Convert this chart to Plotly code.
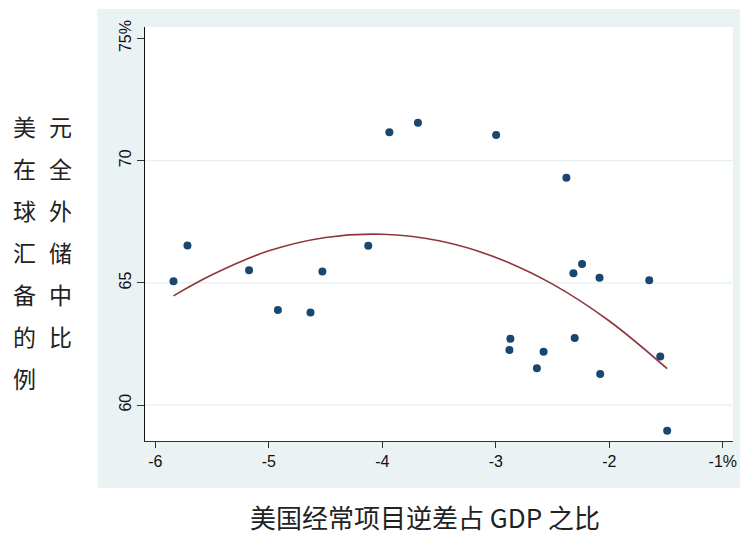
import plotly.graph_objects as go

# ---- data ----
deficit_gdp = [-5.84, -5.717, -5.174, -4.92, -4.633, -4.528, -4.124, -3.938, -3.686, -2.997,
               -2.378, -2.24, -2.316, -2.086, -1.648, -2.871, -2.88, -2.579, -2.638, -2.305,
               -2.08, -1.551, -1.49]
usd_share = [65.07, 66.53, 65.52, 63.89, 63.79, 65.47, 66.52, 71.16, 71.55, 71.05,
             69.30, 65.77, 65.39, 65.21, 65.11, 62.71, 62.25, 62.18, 61.51, 62.74,
             61.27, 61.99, 58.95]

fit_x = [-5.84, -5.5, -5.0, -4.5, -4.0, -3.5, -3.0, -2.5, -2.0, -1.49]
fit_y = [64.47, 65.33, 66.31, 66.86, 66.99, 66.72, 66.04, 64.95, 63.44, 61.49]

x_tickvals = [-6, -5, -4, -3, -2, -1]
x_ticktext = ["-6", "-5", "-4", "-3", "-2", "-1%"]
y_tickvals = [60, 65, 70, 75]
y_ticktext = ["60", "65", "70", "75%"]
grid_vals = [60, 65, 70]

y_title_rows = [["美", "元"], ["在", "全"], ["球", "外"], ["汇", "储"], ["备", "中"], ["的", "比"], ["例"]]
x_title = "美国经常项目逆差占 GDP 之比"

# ---- layout geometry (pixels) ----
W, H = 744, 534
L, R, T, B = 145, 7, 27, 93
pw, ph = W - L - R, H - T - B


def px2x(px):
    return (px - L) / pw


def py2y(py):
    return (H - B - py) / ph


fig = go.Figure()

fig.add_trace(go.Scatter(
    x=deficit_gdp, y=usd_share, mode="markers",
    marker=dict(color="#1a476f", size=8, line=dict(width=0)),
    showlegend=False, hoverinfo="x+y"))

fig.add_trace(go.Scatter(
    x=fit_x, y=fit_y, mode="lines", line=dict(color="#90353b", width=1.6, shape="spline"),
    showlegend=False, hoverinfo="skip"))

shapes = [
    dict(type="rect", xref="paper", yref="paper", x0=px2x(97), x1=px2x(744), y0=py2y(488), y1=py2y(9),
         fillcolor="#eaf2f3", line=dict(width=0), layer="below"),
    dict(type="rect", xref="paper", yref="paper", x0=0, x1=1, y0=0, y1=1,
         fillcolor="white", line=dict(width=0), layer="below"),
]
for g in grid_vals:
    shapes.append(dict(type="line", xref="paper", yref="y", x0=0, x1=1, y0=g, y1=g,
                       line=dict(color="#e6eff1", width=1.2), layer="below"))

annotations = []
col_px = [24, 60]
row_py0, row_dy = 126, 42
for i, row in enumerate(y_title_rows):
    for j, ch in enumerate(row):
        annotations.append(dict(
            text=ch, xref="paper", yref="paper",
            x=px2x(col_px[j]), y=py2y(row_py0 + i * row_dy),
            xanchor="center", yanchor="middle", showarrow=False,
            font=dict(family="Noto Sans CJK SC", size=23, color="#222222")))

annotations.append(dict(
    text=x_title, xref="paper", yref="paper", x=px2x(427), y=py2y(516),
    xanchor="center", yanchor="middle", showarrow=False, borderpad=0,
    font=dict(family="Noto Sans CJK SC", size=26, color="#222222")))

fig.update_layout(
    width=W, height=H,
    margin=dict(l=L, r=R, t=T, b=B, pad=0),
    paper_bgcolor="white", plot_bgcolor="white",
    shapes=shapes, annotations=annotations,
    font=dict(family="Liberation Sans, Arial, sans-serif", size=16, color="#111111"),
    xaxis=dict(range=[-6.091, -0.91], tickvals=x_tickvals, ticktext=x_ticktext,
               showgrid=False, zeroline=False, showline=True, linecolor="#333333", linewidth=1,
               ticks="outside", ticklen=6, tickcolor="#333333", tickwidth=1,
               tickfont=dict(size=16)),
    yaxis=dict(range=[58.53, 75.47], tickvals=y_tickvals, ticktext=y_ticktext,
               showgrid=False, zeroline=False, showline=True, linecolor="#111111", linewidth=1,
               ticks="outside", ticklen=7, tickcolor="#333333", tickwidth=1,
               tickangle=-90, tickfont=dict(size=16)),
)

fig.write_html("out.html", config={"displayModeBar": False},
               post_script="document.body.style.margin='0';document.body.style.overflow='hidden';")
